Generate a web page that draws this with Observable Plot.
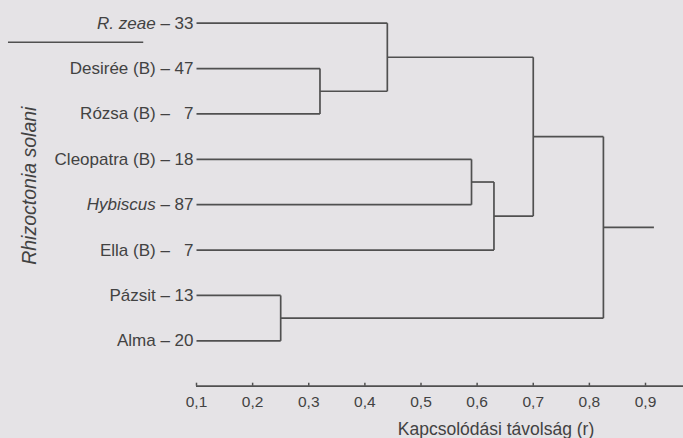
<!DOCTYPE html>
<html>
<head>
<meta charset="utf-8">
<script src="https://cdn.jsdelivr.net/npm/d3@7"></script>
<script src="https://cdn.jsdelivr.net/npm/@observablehq/plot@0.6"></script>
<style>
  html, body { margin: 0; padding: 0; background: #e5e3e6; }
  #chart svg { display: block; }
  #chart g[aria-label="x-axis tick label"] { font-size: 15.5px; }
</style>
</head>
<body>
<div id="chart"></div>
<script>
// Leaves (top to bottom)
const leafNames = ["R. zeae", "Desirée (B)", "Rózsa (B)", "Cleopatra (B)", "Hybiscus", "Ella (B)", "Pázsit", "Alma"];
const leafCounts = [33, 47, 7, 18, 87, 7, 13, 20];
const leafItalic = [true, false, false, false, true, false, false, false];
// Merges: [child A id, child B id, linkage distance]; new ids start at 8
const merges = [
  [1, 2, 0.32],
  [0, 8, 0.44],
  [3, 4, 0.59],
  [10, 5, 0.63],
  [9, 11, 0.70],
  [6, 7, 0.25],
  [12, 13, 0.825]
];
const rootEnd = 0.915;
const xTicks = [0.1, 0.2, 0.3, 0.4, 0.5, 0.6, 0.7, 0.8, 0.9];
const axisEnd = 0.97;
const axisTitle = "Kapcsolódási távolság (r)";
const groupLabel = "Rhizoctonia solani";
const separatorY = 0.42;
const separatorX = [-0.235, 0.006];

const INK = "#505050";
const TXT = "#424242";
const FONT = "'Liberation Sans', Arial, Helvetica, sans-serif";

// Build dendrogram segments
const leaves = leafNames.map((name, i) => ({
  name, count: leafCounts[i], italic: leafItalic[i], index: i,
  label: name + " \u2013 " + (leafCounts[i] < 10 ? "\u2007" + leafCounts[i] : leafCounts[i])
}));
const nodes = leaves.map((d, i) => ({x: xTicks[0], y: i}));
const segments = [];
for (const [a, b, h] of merges) {
  const A = nodes[a], B = nodes[b];
  segments.push({x1: A.x, y1: A.y, x2: h, y2: A.y});
  segments.push({x1: B.x, y1: B.y, x2: h, y2: B.y});
  segments.push({x1: h, y1: A.y, x2: h, y2: B.y});
  nodes.push({x: h, y: (A.y + B.y) / 2});
}
const root = nodes[nodes.length - 1];
segments.push({x1: root.x, y1: root.y, x2: rootEnd, y2: root.y});

const chart = Plot.plot({
  width: 683,
  height: 438,
  marginLeft: 196,
  marginRight: 38,
  marginTop: 22.7,
  marginBottom: 52.3,
  x: {domain: [0.1, 0.9]},
  y: {domain: [0, 8], reverse: true, axis: null},
  style: {background: "transparent", fontFamily: FONT, color: TXT},
  marks: [
    Plot.link(segments, {x1: "x1", y1: "y1", x2: "x2", y2: "y2", stroke: INK, strokeWidth: 1.7}),
    Plot.ruleY([8], {x1: xTicks[0], x2: axisEnd, stroke: INK, strokeWidth: 1.7}),
    Plot.axisX(xTicks, {
      anchor: "bottom", tickSize: -3, tickPadding: 13, stroke: INK, strokeWidth: 1.5,
      fontSize: 15.5, fill: TXT, label: null,
      tickFormat: d => d.toFixed(1).replace(".", ",")
    }),
    Plot.text(leaves, {
      x: xTicks[0], y: "index", text: "label", textAnchor: "end", dx: -3,
      fontSize: 17, fill: TXT, className: "leaf"
    }),
    Plot.text([axisTitle], {frameAnchor: "bottom", textAnchor: "middle", dx: 75, dy: 49, fontSize: 17.5, fill: TXT}),
    Plot.text([groupLabel], {frameAnchor: "left", textAnchor: "middle", dx: -167, dy: -19, rotate: -90, fontSize: 19.5, fontStyle: "italic", fill: TXT}),
    Plot.ruleY([separatorY], {x1: separatorX[0], x2: separatorX[1], stroke: INK, strokeWidth: 1.7})
  ]
});

// Mixed italic names in leaf labels
d3.select(chart).selectAll("g.leaf text").each(function(_, i) {
  const d = leaves[i];
  if (!d || !d.italic) return;
  const t = d3.select(this);
  t.text(null);
  t.append("tspan").attr("font-style", "italic").text(d.name);
  t.append("tspan").text(d.label.slice(d.name.length));
});

document.getElementById("chart").appendChild(chart);
</script>
</body>
</html>
